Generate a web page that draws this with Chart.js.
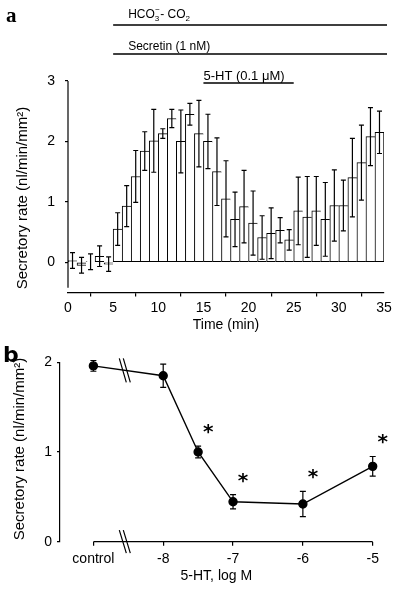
<!DOCTYPE html>
<html>
<head>
<meta charset="utf-8">
<script src="https://cdn.jsdelivr.net/npm/chart.js@4.4.1/dist/chart.umd.min.js"></script>
<style>
  html, body { margin: 0; padding: 0; background: #fff; }
  #wrap { position: relative; width: 404px; height: 589px; overflow: hidden; }
  canvas { position: absolute; left: 0; }
  #chartA { top: 0; }
  #chartB { top: 330px; }
</style>
</head>
<body>
<div id="wrap">
  <canvas id="chartA" width="404" height="340"></canvas>
  <canvas id="chartB" width="404" height="259"></canvas>
</div>
<script>
// --- panel a: secretory rate per 1-min bin ---
const timeBins = [0.5, 1.5, 2.5, 3.5, 4.5, 5.5, 6.5, 7.5, 8.5, 9.5,
  10.5, 11.5, 12.5, 13.5, 14.5, 15.5, 16.5, 17.5, 18.5, 19.5,
  20.5, 21.5, 22.5, 23.5, 24.5, 25.5, 26.5, 27.5, 28.5, 29.5,
  30.5, 31.5, 32.5, 33.5, 34.5];
const secretoryRate = [0.03, -0.05, 0.01, 0.10, -0.03, 0.55, 0.93, 1.42, 1.84, 2.01,
  2.13, 2.38, 2.00, 2.45, 2.13, 2.00, 1.50, 1.05, 0.71, 0.92,
  0.65, 0.41, 0.48, 0.53, 0.37, 0.85, 0.75, 0.85, 0.71, 0.94,
  0.94, 1.40, 1.65, 2.08, 2.15];
const secretoryRateSem = [0.13, 0.13, 0.13, 0.17, 0.12, 0.27, 0.34, 0.43, 0.32, 0.52,
  0.08, 0.15, 0.52, 0.18, 0.55, 0.45, 0.56, 0.63, 0.45, 0.60,
  0.53, 0.36, 0.42, 0.21, 0.17, 0.56, 0.67, 0.57, 0.61, 0.59,
  0.42, 0.65, 0.62, 0.48, 0.35];
const timeTicks = [0, 5, 10, 15, 20, 25, 30, 35];
const rateTicksA = [0, 1, 2, 3];
// treatment periods (min)
const hco3Period = [5, 35];
const secretinPeriod = [5, 35];
const htPeriod = [15, 25];

// --- panel b: dose response (control drawn at -9) ---
const doseLogM = [-9, -8, -7.5, -7, -6, -5];
const doseRate = [1.96, 1.85, 1.00, 0.445, 0.42, 0.84];
const doseSem = [0.06, 0.13, 0.065, 0.08, 0.14, 0.11];
const doseSignificant = [false, false, true, true, true, true];
const doseTicks = [-9, -8, -7, -6, -5];
const doseTickLabels = ['control', '-8', '-7', '-6', '-5'];
const rateTicksB = [0, 1, 2];
const axisBreakAt = -8.55;

const SANS = "'Liberation Sans', Arial, Helvetica, sans-serif";
Chart.defaults.font.family = SANS;
Chart.defaults.color = '#000';

function rotatedText(ctx, text, x, y, size) {
  ctx.save();
  ctx.translate(x, y);
  ctx.rotate(-Math.PI / 2);
  ctx.font = size + 'px ' + SANS;
  ctx.fillStyle = '#000';
  ctx.textAlign = 'center';
  ctx.textBaseline = 'middle';
  ctx.fillText(text, 0, 0);
  ctx.restore();
}

// error bars, extra y axis line and treatment labels for panel a
const panelA = {
  id: 'panelA',
  afterDatasetsDraw(chart) {
    const ctx = chart.ctx, xs = chart.scales.x, ys = chart.scales.y;
    const meta = chart.getDatasetMeta(0);
    ctx.save();
    ctx.strokeStyle = '#000';
    ctx.lineWidth = 1.2;
    meta.data.forEach((bar, i) => {
      const v = secretoryRate[i], e = secretoryRateSem[i];
      const x = bar.x;
      const y1 = ys.getPixelForValue(v + e), y2 = ys.getPixelForValue(v - e);
      ctx.beginPath();
      ctx.moveTo(x, y1); ctx.lineTo(x, y2);
      ctx.moveTo(x - 2.5, y1); ctx.lineTo(x + 2.5, y1);
      ctx.moveTo(x - 2.5, y2); ctx.lineTo(x + 2.5, y2);
      ctx.stroke();
    });

    // y axis line (stops short of the x axis)
    const ax = chart.chartArea.left;
    ctx.beginPath();
    ctx.moveTo(ax, ys.getPixelForValue(3));
    ctx.lineTo(ax, ys.getPixelForValue(-0.42));
    ctx.stroke();

    // treatment bars
    ctx.lineWidth = 1.3;
    ctx.beginPath();
    ctx.moveTo(xs.getPixelForValue(hco3Period[0]), 25);
    ctx.lineTo(xs.getPixelForValue(hco3Period[1]) + 3, 25);
    ctx.moveTo(xs.getPixelForValue(secretinPeriod[0]), 54);
    ctx.lineTo(xs.getPixelForValue(secretinPeriod[1]) + 3, 54);
    ctx.moveTo(xs.getPixelForValue(htPeriod[0]), 83);
    ctx.lineTo(xs.getPixelForValue(htPeriod[1]), 83);
    ctx.stroke();

    ctx.fillStyle = '#000';
    ctx.textBaseline = 'alphabetic';
    let tx = xs.getPixelForValue(hco3Period[0]) + 15;
    ctx.font = '12px ' + SANS;
    ctx.fillText('HCO', tx, 18);
    tx += ctx.measureText('HCO').width;
    ctx.font = '8px ' + SANS;
    ctx.fillText('3', tx, 21);
    ctx.fillText('\u2212', tx + 0.5, 12);
    tx += ctx.measureText('3').width + 1;
    ctx.font = '12px ' + SANS;
    ctx.fillText('- CO', tx, 18);
    tx += ctx.measureText('- CO').width;
    ctx.font = '8px ' + SANS;
    ctx.fillText('2', tx, 21);

    ctx.font = '12px ' + SANS;
    ctx.fillText('Secretin (1 nM)', xs.getPixelForValue(secretinPeriod[0]) + 15, 50);
    ctx.font = '13px ' + SANS;
    ctx.fillText('5-HT (0.1 \u03bcM)', xs.getPixelForValue(htPeriod[0]), 80);

    // panel letter
    ctx.font = "bold 21px 'Liberation Serif', 'DejaVu Serif', serif";
    ctx.fillText('a', 6, 22);

    ctx.restore();
    rotatedText(ctx, 'Secretory rate (nl/min/mm\u00b2)', 23, 198, 15);
  }
};

new Chart(document.getElementById('chartA'), {
  type: 'bar',
  data: {
    datasets: [{
      data: timeBins.map((t, i) => ({ x: t, y: secretoryRate[i] })),
      backgroundColor: '#fff',
      borderColor: '#000',
      borderSkipped: false,
      borderWidth: c => ({ top: 1, bottom: 1, left: 1, right: c.dataIndex === timeBins.length - 1 ? 1 : 0 }),
      barPercentage: 1,
      categoryPercentage: 1
    }]
  },
  options: {
    responsive: false,
    animation: false,
    layout: { padding: { top: 81, right: 20, left: 0, bottom: 0 } },
    plugins: { legend: { display: false }, tooltip: { enabled: false } },
    scales: {
      x: {
        type: 'linear', min: 0, max: 35, offset: false,
        afterBuildTicks: s => { s.ticks = timeTicks.map(v => ({ value: v })); },
        afterFit: s => { s.height = 47.5; },
        grid: { drawOnChartArea: false, drawTicks: true, tickLength: 4, color: '#000', lineWidth: 1.2 },
        border: { display: true, color: '#000', width: 1.2 },
        ticks: { font: { size: 14 }, padding: 3, maxRotation: 0 },
        title: { display: true, text: 'Time (min)', font: { size: 14 }, padding: { top: 0, bottom: 6 } }
      },
      y: {
        min: -0.5, max: 3,
        afterBuildTicks: s => { s.ticks = rateTicksA.map(v => ({ value: v })); },
        afterFit: s => { s.width = 68; },
        grid: { drawOnChartArea: false, drawTicks: true, tickLength: 3, color: '#000', lineWidth: 1.2 },
        border: { display: false },
        ticks: { font: { size: 14 }, padding: 10 }
      }
    }
  },
  plugins: [panelA]
});

// error bars, asterisks, axis breaks, x axis line for panel b
const panelB = {
  id: 'panelB',
  beforeDatasetsDraw(chart) {
    const ctx = chart.ctx, xs = chart.scales.x, ys = chart.scales.y;
    ctx.save();
    ctx.strokeStyle = '#000';
    ctx.lineWidth = 1.2;
    // x axis runs from control to -5 only
    ctx.beginPath();
    ctx.moveTo(xs.getPixelForValue(doseTicks[0]), chart.chartArea.bottom);
    ctx.lineTo(xs.getPixelForValue(doseTicks[doseTicks.length - 1]), chart.chartArea.bottom);
    ctx.stroke();
    doseLogM.forEach((d, i) => {
      const x = xs.getPixelForValue(d);
      const y1 = ys.getPixelForValue(doseRate[i] + doseSem[i]);
      const y2 = ys.getPixelForValue(doseRate[i] - doseSem[i]);
      ctx.beginPath();
      ctx.moveTo(x, y1); ctx.lineTo(x, y2);
      ctx.moveTo(x - 3, y1); ctx.lineTo(x + 3, y1);
      ctx.moveTo(x - 3, y2); ctx.lineTo(x + 3, y2);
      ctx.stroke();
    });
    ctx.restore();
  },
  afterDatasetsDraw(chart) {
    const ctx = chart.ctx, xs = chart.scales.x, ys = chart.scales.y;
    ctx.save();
    ctx.fillStyle = '#000';
    ctx.strokeStyle = '#000';
    ctx.lineWidth = 1.2;
    ctx.font = "bold 20px 'DejaVu Sans', sans-serif";
    ctx.textAlign = 'center';
    ctx.textBaseline = 'alphabetic';
    doseLogM.forEach((d, i) => {
      if (!doseSignificant[i]) return;
      const x = xs.getPixelForValue(d) + 10;
      const cy = ys.getPixelForValue(doseRate[i] + doseSem[i]) - 20;
      ctx.fillText('*', x, cy + 12);
    });

    // axis break marks on the x axis and on the curve
    const xb = xs.getPixelForValue(axisBreakAt);
    const axisY = chart.chartArea.bottom;
    const r0 = ys.getPixelForValue(doseRate[0]), r1 = ys.getPixelForValue(doseRate[1]);
    const x0 = xs.getPixelForValue(doseLogM[0]), x1 = xs.getPixelForValue(doseLogM[1]);
    const curveY = r0 + (r1 - r0) * (xb - x0) / (x1 - x0);
    ctx.beginPath();
    [-2, 2].forEach(o => {
      ctx.moveTo(xb + o - 3.5, axisY - 11.5); ctx.lineTo(xb + o + 3.5, axisY + 11.5);
      ctx.moveTo(xb + o - 3.5, curveY - 12); ctx.lineTo(xb + o + 3.5, curveY + 12);
    });
    ctx.stroke();

    ctx.font = "bold 22px 'DejaVu Sans', sans-serif";
    ctx.textAlign = 'left';
    ctx.fillText('b', 3, 32);
    ctx.restore();
    rotatedText(ctx, 'Secretory rate (nl/min/mm\u00b2)', 20, 119, 15);
  }
};

new Chart(document.getElementById('chartB'), {
  type: 'line',
  data: {
    datasets: [{
      data: doseLogM.map((d, i) => ({ x: d, y: doseRate[i] })),
      borderColor: '#000',
      borderWidth: 1.4,
      pointRadius: 4,
      pointBackgroundColor: '#000',
      pointBorderColor: '#000',
      tension: 0,
      clip: false
    }]
  },
  options: {
    responsive: false,
    animation: false,
    layout: { padding: { top: 32.3, right: 31.3, left: 0, bottom: 0 } },
    plugins: { legend: { display: false }, tooltip: { enabled: false } },
    scales: {
      x: {
        type: 'linear', min: -9.478, max: -5,
        afterBuildTicks: s => { s.ticks = doseTicks.map(v => ({ value: v })); },
        afterFit: s => { s.height = 47.3; },
        grid: { drawOnChartArea: false, drawTicks: true, tickLength: 4, color: '#000', lineWidth: 1.2 },
        border: { display: false },
        ticks: {
          font: { size: 14 }, padding: 5, maxRotation: 0, autoSkip: false,
          callback: v => doseTickLabels[doseTicks.indexOf(v)]
        },
        title: { display: true, text: '5-HT, log M', font: { size: 14 }, padding: { top: 0, bottom: 4 } }
      },
      y: {
        min: 0, max: 2,
        afterBuildTicks: s => { s.ticks = rateTicksB.map(v => ({ value: v })); },
        afterFit: s => { s.width = 60; },
        grid: { drawOnChartArea: false, drawTicks: true, tickLength: 3, color: '#000', lineWidth: 1.2 },
        border: { display: true, color: '#000', width: 1.2 },
        ticks: { font: { size: 14 }, padding: 5 }
      }
    }
  },
  plugins: [panelB]
});
</script>
</body>
</html>
